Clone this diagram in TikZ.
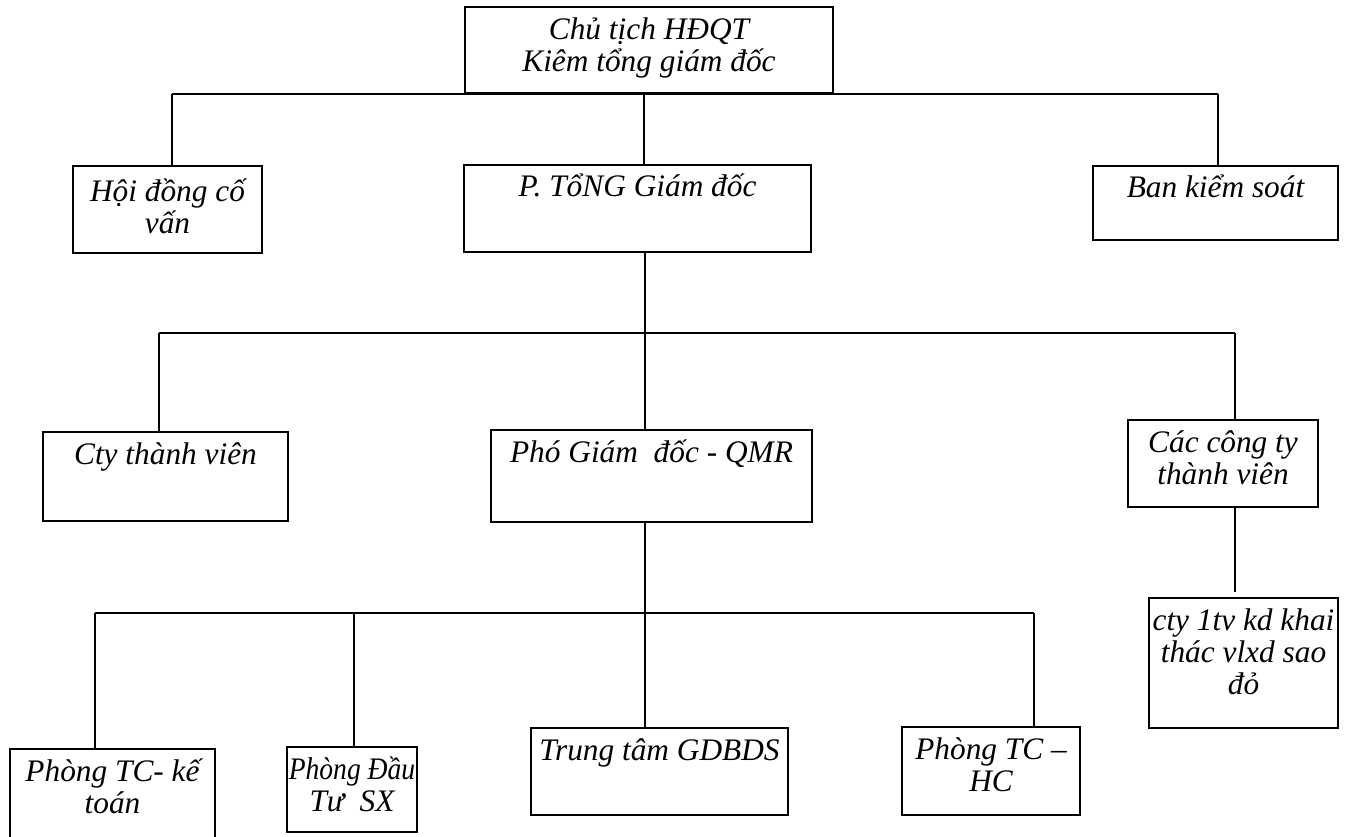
\documentclass[tikz,border=0pt]{standalone}
\usepackage{fontspec}
\setmainfont{Liberation Serif}
% one line of box text, kept from changing the line height
\newcommand\tline[1]{\smash{#1}}
% \obox[first baseline]{name}{cx}{cy}{width}{height}{lines}: framed box, text from the top
\newcommand\obox[7][24pt]{%
  \node[orgbox] (#2) at (#3,#4)
    {\parbox[c][#6][t]{#5}{\centering\rule{0pt}{#1}#7\par}};}
\begin{document}
\begin{tikzpicture}[x=0.75pt,y=-0.75pt,
  orgbox/.style={draw,line width=1.4pt,inner sep=0pt,outer sep=0pt,
    font=\fontsize{23.5}{24}\selectfont\itshape},
  link/.style={line width=1.4pt}]
\fill[white] (0,0) rectangle (1351,837);
\useasboundingbox (0,0) rectangle (1351,837);

% boxes
\obox[24.5pt]{top}{649}{50}{276pt}{64.5pt}{\tline{Chủ tịch HĐQT}\\\tline{Kiêm tổng giám đốc}}
\obox[27pt]{hd}{167.5}{209.5}{141.75pt}{65.25pt}{\tline{Hội đồng cố}\\\tline{vấn}}
\obox{ptgd}{637.5}{208.5}{260.25pt}{65.25pt}{\tline{P. TổNG Giám đốc}}
\obox{bks}{1215.5}{203}{183.75pt}{55.5pt}{\tline{Ban kiểm soát}}
\obox{cty}{165.5}{476.5}{183.75pt}{66.75pt}{\tline{Cty thành viên}}
\obox{pgd}{651.5}{476}{240.75pt}{69pt}{\tline{Phó Giám\ \ đốc - QMR}}
\obox{cacct}{1223}{463.5}{142.5pt}{65.25pt}{\tline{Các công ty}\\\tline{thành viên}}
\obox{cty1}{1243.5}{663}{141.75pt}{97.5pt}{\tline{cty 1tv kd khai}\\\tline{thác vlxd sao}\\\tline{đỏ}}
\obox{tcke}{112.5}{799.5}{153.75pt}{75.75pt}{\tline{Phòng TC- kế}\\\tline{toán}}
\obox{dt}{352}{789.5}{97.5pt}{63.75pt}{\tline{\scalebox{0.88}[1]{Phòng Đầu}}\\\tline{Tư\ \ SX}}
\obox{ttg}{659.5}{771.5}{192.75pt}{65.25pt}{\tline{Trung tâm GDBDS}}
\obox{tchc}{991}{771}{133.5pt}{66pt}{\tline{Phòng TC –}\\\tline{HC}}

% first level bus
\coordinate (a1) at (172,94);
\coordinate (a2) at (1218,94);
\coordinate (am) at (644,94);
\draw[link] (a1) -- (a2);
\draw[link] (a1) -- (a1 |- hd.north);
\draw[link] (a2) -- (a2 |- bks.north);
\draw[link] (am |- top.south) -- (am |- ptgd.north);

% second level bus
\coordinate (b1) at (159,333);
\coordinate (b2) at (1235,333);
\coordinate (bm) at (645,333);
\draw[link] (b1) -- (b2);
\draw[link] (b1) -- (b1 |- cty.north);
\draw[link] (b2) -- (b2 |- cacct.north);
\draw[link] (bm |- ptgd.south) -- (bm |- pgd.north);
\coordinate (cend) at (1235,592);
\draw[link] (cend |- cacct.south) -- (cend);

% third level bus
\coordinate (c1) at (95,613);
\coordinate (c2) at (1034,613);
\coordinate (cd) at (354,613);
\coordinate (cm) at (645,613);
\draw[link] (c1) -- (c2);
\draw[link] (c1) -- (c1 |- tcke.north);
\draw[link] (cd) -- (cd |- dt.north);
\draw[link] (cm |- pgd.south) -- (cm |- ttg.north);
\draw[link] (c2) -- (c2 |- tchc.north);
\end{tikzpicture}
\end{document}
